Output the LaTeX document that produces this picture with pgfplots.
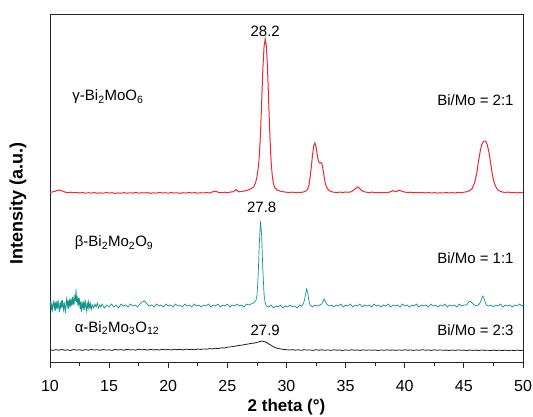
\documentclass[border=0pt]{standalone}
\usepackage{fontspec}
\setmainfont{Liberation Sans}
\usepackage{pgfplots}
\pgfplotsset{compat=1.18}
\usepackage{pgfplotstable}
\definecolor{xred}{RGB}{236,40,48}
\definecolor{xteal}{RGB}{18,148,140}
\definecolor{xblk}{RGB}{30,30,30}

\pgfplotstableread{
x y
10.0 169.5
10.25 170.2
10.5 171.0
10.75 172.0
11.0 171.2
11.25 170.0
11.5 169.4
11.75 169.8
12.0 169.2
12.25 169.6
12.5 169.0
12.75 169.5
13.0 168.8
13.25 169.3
13.5 168.9
13.75 169.4
14.0 168.7
14.25 169.2
14.5 168.8
14.75 169.5
15.0 168.9
15.25 169.3
15.5 168.6
15.75 169.1
16.0 168.8
16.25 169.4
16.5 168.7
16.75 169.2
17.0 168.9
17.25 169.6
17.5 168.8
17.75 169.3
18.0 169.0
18.25 169.4
18.5 168.7
18.75 169.2
19.0 168.8
19.25 169.5
19.5 169.0
19.75 169.3
20.0 168.8
20.25 169.4
20.5 169.0
20.75 169.2
21.0 168.7
21.25 169.3
21.5 168.9
21.75 169.6
22.0 169.0
22.25 169.4
22.5 168.8
22.75 169.3
23.0 169.1
23.25 169.5
23.5 169.0
23.75 170.2
24.0 170.8
24.25 169.6
24.5 169.3
24.75 169.8
25.0 169.4
25.25 169.9
25.5 170.3
25.75 172.5
25.9 170.5
26.0 170.2
26.25 170.6
26.5 171.2
26.75 172.0
27.0 173.2
27.2 175
27.3 177
27.4 180
27.5 185
27.6 193
27.7 206
27.8 228
27.9 260
28.0 293
28.1 315
28.2 323
28.3 316
28.4 292
28.5 258
28.6 225
28.7 200
28.8 186
28.9 178
29.0 174.5
29.2 172
29.5 170.8
29.75 170.2
30.0 169.8
30.25 169.5
30.5 169.9
30.75 169.3
31.0 169.7
31.25 169.6
31.5 170.2
31.7 171.5
31.8 173
31.9 177
32.0 185
32.1 195
32.2 207
32.3 216
32.4 219
32.5 215
32.6 207
32.7 201
32.8 199
32.9 199.5
33.0 198
33.1 192
33.2 184
33.3 178
33.4 174.5
33.6 171.5
33.8 170.3
34.0 169.8
34.25 169.4
34.5 169.9
34.75 169.5
35.0 170.0
35.25 169.7
35.5 170.4
35.75 172.5
35.9 174
36.0 175
36.1 174.5
36.3 172
36.5 170.5
36.75 169.8
37.0 169.4
37.25 169.9
37.5 169.3
37.75 169.7
38.0 169.2
38.25 169.6
38.5 169.4
38.75 170.0
39.0 171.3
39.25 170.2
39.5 171.8
39.75 170.8
40.0 169.9
40.25 169.5
40.5 169.8
40.75 169.3
41.0 169.6
41.25 169.2
41.5 169.7
41.75 169.1
42.0 169.5
42.25 169.0
42.5 169.4
42.75 168.9
43.0 169.3
43.25 169.0
43.5 169.5
43.75 169.1
44.0 169.4
44.25 169.0
44.5 169.6
44.75 169.2
45.0 169.8
45.25 170.3
45.5 171.5
45.7 173.5
45.9 179
46.0 184
46.1 190
46.2 198
46.3 205
46.4 212
46.5 217
46.6 219.5
46.7 221
46.8 221
46.9 220
47.0 216
47.1 211
47.2 204
47.3 196
47.4 188
47.5 182
47.6 178
47.8 173
48.0 171
48.25 170.0
48.5 169.5
48.75 169.9
49.0 169.3
49.25 169.7
49.5 169.1
49.75 169.6
50.0 169.2
}\gammadata

\pgfplotstableread{
x y
10.0 56
10.05 59
10.1 53
10.15 58
10.2 52
10.25 57
10.3 60
10.35 54
10.4 58
10.45 51
10.5 61
10.55 55
10.6 59
10.65 53
10.7 60
10.75 56
10.8 50
10.85 58
10.9 55
10.95 61
11.0 54
11.05 62
11.1 56
11.15 52
11.2 60
11.25 55
11.3 49
11.35 58
11.4 63
11.45 56
11.5 60
11.55 53
11.6 62
11.65 57
11.7 64
11.75 55
11.8 61
11.85 58
11.9 65
11.95 57
12.0 63
12.05 59
12.1 67
12.15 61
12.2 73
12.25 60
12.3 66
12.35 56
12.4 64
12.45 58
12.5 62
12.55 53
12.6 60
12.65 50
12.7 58
12.75 55
12.8 61
12.85 52
12.9 59
12.95 54
13.0 60
13.05 56
13.1 51
13.15 58
13.2 55
13.25 60
13.3 53
13.35 58
13.4 55
13.45 59
13.5 53
13.6 57
13.7 54
13.8 58
13.9 55
14.0 59
14.1 54
14.2 57
14.3 55
14.4 58
14.6 54
14.8 57
15.0 55
15.2 58
15.4 55
15.6 57
15.8 54
16.0 58
16.2 56
16.4 57
16.6 55
16.8 58
17.0 56
17.2 57
17.4 55
17.6 58
17.8 60
18.0 61
18.2 58
18.4 56
18.6 57
18.8 55
19.0 58
19.2 56
19.4 57
19.6 55
19.8 58
20.0 56
20.2 57
20.4 55
20.6 58
20.8 56
21.0 57
21.2 55
21.4 58
21.6 56
21.8 57
22.0 55
22.2 58
22.4 56
22.6 57
22.8 55
23.0 57
23.2 56
23.4 58
23.6 55
23.8 57
24.0 56
24.2 58
24.4 55
24.6 57
24.8 56
25.0 58
25.2 55
25.4 57
25.6 56
25.8 58
26.0 56
26.2 57
26.4 55
26.6 58
26.8 57
27.0 58
27.2 59
27.4 61
27.5 66
27.6 85
27.7 118
27.8 141
27.9 126
28.0 92
28.1 68
28.2 59
28.3 56
28.5 55
28.7 57
28.9 54
29.1 56
29.3 55
29.5 57
29.7 54
29.9 56
30.1 55
30.3 57
30.5 55
30.7 56
30.9 54
31.1 57
31.3 56
31.4 58
31.5 61
31.6 67
31.7 73
31.8 69
31.9 61
32.0 57
32.2 55
32.4 57
32.6 56
32.8 57
33.0 58
33.1 61
33.2 63
33.3 60
33.4 58
33.6 56
33.8 57
34.0 55
34.2 57
34.4 56
34.6 58
34.8 55
35.0 57
35.2 56
35.4 58
35.6 55
35.8 57
36.0 56
36.2 58
36.4 55
36.6 57
36.8 56
37.0 57
37.2 55
37.4 58
37.6 56
37.8 57
38.0 55
38.2 57
38.4 56
38.6 58
38.8 55
39.0 57
39.2 56
39.4 57
39.6 55
39.8 58
40.0 56
40.2 57
40.4 55
40.6 57
40.8 56
41.0 58
41.2 55
41.4 57
41.6 56
41.8 57
42.0 55
42.2 58
42.4 56
42.6 57
42.8 55
43.0 57
43.2 56
43.4 58
43.6 55
43.8 57
44.0 56
44.2 57
44.4 55
44.6 58
44.8 56
45.0 57
45.2 57
45.3 58
45.4 60
45.5 61
45.6 60
45.7 59
45.9 57
46.1 56
46.3 58
46.4 60
46.5 63
46.6 66
46.7 64
46.8 60
46.9 57
47.1 56
47.3 57
47.5 55
47.7 57
47.9 56
48.1 58
48.3 55
48.5 57
48.7 56
48.9 57
49.1 55
49.3 57
49.5 56
49.7 58
49.9 56
50.0 57
}\betadata

\pgfplotstableread{
x y
10.0 12.3
10.25 11.6
10.5 12.4
10.75 11.8
11.0 12.6
11.25 11.7
11.5 12.2
11.75 11.5
12.0 12.5
12.25 11.9
12.5 12.3
12.75 11.6
13.0 12.4
13.25 11.8
13.5 12.6
13.75 12.0
14.0 12.3
14.25 11.7
14.5 12.5
14.75 11.9
15.0 12.2
15.25 11.6
15.5 12.6
15.75 12.0
16.0 12.4
16.25 11.8
16.5 12.7
16.75 12.1
17.0 12.3
17.25 11.9
17.5 12.8
17.75 12.2
18.0 12.5
18.25 11.9
18.5 12.6
18.75 12.1
19.0 12.4
19.25 12.0
19.5 12.7
19.75 12.2
20.0 12.5
20.25 12.0
20.5 12.8
20.75 12.3
21.0 12.6
21.25 12.1
21.5 12.9
21.75 12.4
22.0 12.7
22.25 12.2
22.5 13.0
22.75 12.6
23.0 13.1
23.25 12.8
23.5 13.4
23.75 13.1
24.0 13.7
24.25 13.5
24.5 14.2
24.75 14.0
25.0 14.8
25.25 15.1
25.5 15.6
25.75 16.0
26.0 16.6
26.25 16.9
26.5 17.5
26.75 18.0
27.0 18.6
27.25 18.9
27.5 19.6
27.75 20.3
27.9 21.0
28.05 20.6
28.2 20.2
28.4 18.9
28.6 17.4
28.8 15.9
29.0 14.6
29.25 13.6
29.5 13.0
29.75 12.6
30.0 12.3
30.25 12.0
30.5 12.4
30.75 11.8
31.0 12.2
31.25 11.7
31.5 12.3
31.75 11.9
32.0 12.1
32.25 11.6
32.5 12.3
32.75 11.8
33.0 12.2
33.25 11.7
33.5 12.1
33.75 11.6
34.0 12.2
34.25 11.8
34.5 12.0
34.75 11.5
35.0 12.1
35.25 11.7
35.5 12.2
35.75 11.8
36.0 12.0
36.25 11.6
36.5 12.2
36.75 11.7
37.0 12.1
37.25 11.8
37.5 12.0
37.75 11.5
38.0 12.1
38.25 11.7
38.5 12.2
38.75 11.8
39.0 12.0
39.25 11.6
39.5 12.1
39.75 11.7
40.0 12.2
40.25 11.8
40.5 12.0
40.75 11.6
41.0 12.1
41.25 11.7
41.5 12.3
41.75 11.8
42.0 12.0
42.25 11.6
42.5 12.2
42.75 11.7
43.0 12.1
43.25 11.8
43.5 11.9
43.75 11.5
44.0 12.0
44.25 11.6
44.5 12.1
44.75 11.7
45.0 11.9
45.25 11.5
45.5 12.0
45.75 11.6
46.0 11.9
46.25 11.5
46.5 12.0
46.75 11.6
47.0 11.8
47.25 11.4
47.5 11.9
47.75 11.5
48.0 11.8
48.25 11.4
48.5 11.9
48.75 11.5
49.0 11.8
49.25 11.4
49.5 11.9
49.75 11.5
50.0 11.7
}\alphadata

\begin{document}
\begin{tikzpicture}
\begin{axis}[
  name=ax,
  scale only axis,
  width=473pt, height=348pt,
  xmin=10, xmax=50, ymin=0, ymax=348,
  xtick={10,15,...,50},
  minor x tick num=1,
  ytick=\empty,
  xtick pos=bottom,
  tick align=outside,
  major tick length=6pt,
  minor tick length=3.5pt,
  every tick/.style={black!85, line width=0.8pt},
  axis line style={black!85, line width=0.9pt},
  /pgf/number format/assume math mode=true,
  tick label style={font=\fontsize{16}{19}\selectfont},
  xticklabel style={yshift=-9pt},
  xlabel={\bfseries 2 theta (°)},
  ylabel={\bfseries Intensity (a.u.)},
  xlabel style={font=\fontsize{17}{20}\selectfont, at={(axis description cs:0.5,0)}, anchor=center, yshift=-45pt},
  ylabel style={font=\fontsize{18}{21}\selectfont, at={(axis description cs:0,0.455)}, anchor=center, yshift=32pt},
  clip=false,
]
\addplot[xred, line width=1pt] table[x=x,y=y]{\gammadata};
\addplot[xteal, line width=0.7pt] table[x=x,y=y]{\betadata};
\addplot[xblk, line width=0.8pt] table[x=x,y=y]{\alphadata};

\node[anchor=west, font=\fontsize{15}{18}\selectfont] at (axis cs:11.6,265) {γ-Bi\textsubscript{2}MoO\textsubscript{6}};
\node[font=\fontsize{15}{18}\selectfont] at (axis cs:28.2,331) {28.2};
\node[anchor=east, font=\fontsize{15}{18}\selectfont] at (axis cs:49.5,262) {Bi/Mo = 2:1};

\node[anchor=west, font=\fontsize{15}{18}\selectfont] at (axis cs:11.8,119) {β-Bi\textsubscript{2}Mo\textsubscript{2}O\textsubscript{9}};
\node[font=\fontsize{15}{18}\selectfont] at (axis cs:27.9,155) {27.8};
\node[anchor=east, font=\fontsize{15}{18}\selectfont] at (axis cs:49.5,104) {Bi/Mo = 1:1};

\node[anchor=west, font=\fontsize{15}{18}\selectfont] at (axis cs:11.8,34) {α-Bi\textsubscript{2}Mo\textsubscript{3}O\textsubscript{12}};
\node[font=\fontsize{15}{18}\selectfont] at (axis cs:28.2,32) {27.9};
\node[anchor=east, font=\fontsize{15}{18}\selectfont] at (axis cs:49.5,32) {Bi/Mo = 2:3};
\end{axis}
\pgfresetboundingbox
\path ([xshift=-50pt,yshift=-54pt]ax.south west) rectangle ([xshift=10pt,yshift=14pt]ax.north east);
\end{tikzpicture}
\end{document}
